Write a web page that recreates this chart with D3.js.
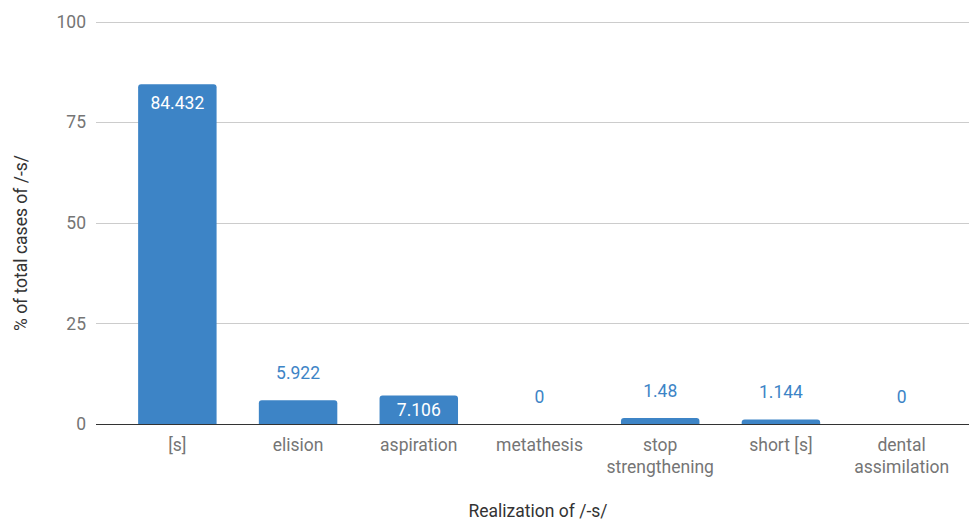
<!DOCTYPE html>
<html>
<head>
<meta charset="utf-8">
<script src="https://cdn.jsdelivr.net/npm/d3@7"></script>
<style>
  body { margin: 0; background: #fff; }
  svg { font-family: Roboto, "Noto Sans", sans-serif; }
</style>
</head>
<body>
<div id="chart"></div>
<script>
var categories = ["[s]", "elision", "aspiration", "metathesis", "stop strengthening", "short [s]", "dental assimilation"];
var values = [84.432, 5.922, 7.106, 0, 1.48, 1.144, 0];
var yTicks = [0, 25, 50, 75, 100];

var width = 969, height = 522;
var margin = {top: 21.5, right: 0, bottom: 98, left: 96};
var fs = "17.5px";

var svg = d3.select("#chart").append("svg")
    .attr("width", width)
    .attr("height", height);

var x = d3.scaleBand()
    .domain(categories)
    .range([117, 962])
    .paddingInner(0.35)
    .paddingOuter(0.175);

var y = d3.scaleLinear()
    .domain([0, 100])
    .range([height - margin.bottom, margin.top]);

// gridlines
svg.append("g")
  .selectAll("line")
  .data(yTicks.filter(d => d > 0))
  .enter().append("line")
  .attr("x1", margin.left)
  .attr("x2", width)
  .attr("y1", d => Math.round(y(d)) + 0.5)
  .attr("y2", d => Math.round(y(d)) + 0.5)
  .style("stroke", "#cccccc")
  .style("stroke-width", 1);

// y tick labels
svg.append("g")
  .selectAll("text")
  .data(yTicks)
  .enter().append("text")
  .attr("x", 86)
  .attr("y", d => y(d))
  .attr("dy", "0.35em")
  .attr("text-anchor", "end")
  .style("font-size", fs)
  .style("fill", "#757575")
  .text(d => d);

// bars with rounded top corners
var r = 3;
function barPath(d, i) {
  var x0 = x(categories[i]), w = x.bandwidth();
  var y0 = y(0), y1 = y(d);
  var h = y0 - y1;
  if (h <= 0) return "";
  var rr = Math.min(r, h);
  return "M" + x0 + "," + y0 +
    "V" + (y1 + rr) +
    "Q" + x0 + "," + y1 + " " + (x0 + rr) + "," + y1 +
    "H" + (x0 + w - rr) +
    "Q" + (x0 + w) + "," + y1 + " " + (x0 + w) + "," + (y1 + rr) +
    "V" + y0 + "Z";
}

svg.append("g")
  .selectAll("path")
  .data(values)
  .enter().append("path")
  .attr("d", barPath)
  .style("fill", "#3d84c6");

// baseline
svg.append("line")
  .attr("x1", margin.left)
  .attr("x2", width)
  .attr("y1", y(0) + 0.5)
  .attr("y2", y(0) + 0.5)
  .style("stroke", "#333333")
  .style("stroke-width", 1);

// data labels: inside (white) when the bar is tall enough, else above
function inside(d) { return (y(0) - y(d)) > 26; }
svg.append("g")
  .selectAll("text")
  .data(values)
  .enter().append("text")
  .attr("x", (d, i) => x(categories[i]) + x.bandwidth() / 2)
  .attr("y", d => inside(d) ? y(d) + Math.min(25, (y(0) - y(d)) / 2 + 6) : y(d) - 21)
  .attr("text-anchor", "middle")
  .style("font-size", fs)
  .style("fill", d => inside(d) ? "#ffffff" : "#3d84c6")
  .text(d => d);

// category labels (wrapped)
var wrapped = {"stop strengthening": ["stop", "strengthening"], "dental assimilation": ["dental", "assimilation"]};
var cat = svg.append("g")
  .selectAll("text")
  .data(categories)
  .enter().append("text")
  .attr("x", d => x(d) + x.bandwidth() / 2)
  .attr("y", 451)
  .attr("text-anchor", "middle")
  .style("font-size", fs)
  .style("fill", "#757575");
cat.each(function(d) {
  var lines = wrapped[d] || [d];
  var t = d3.select(this);
  lines.forEach((l, k) => {
    t.append("tspan")
      .attr("x", x(d) + x.bandwidth() / 2)
      .attr("dy", k === 0 ? 0 : 22)
      .text(l);
  });
});

// axis titles
svg.append("text")
  .attr("x", 538)
  .attr("y", 517)
  .attr("text-anchor", "middle")
  .style("font-size", fs)
  .style("fill", "#333333")
  .text("Realization of /-s/");

svg.append("text")
  .attr("transform", "translate(27,243) rotate(-90)")
  .attr("text-anchor", "middle")
  .style("font-size", fs)
  .style("fill", "#333333")
  .text("% of total cases of /-s/");
</script>
</body>
</html>
